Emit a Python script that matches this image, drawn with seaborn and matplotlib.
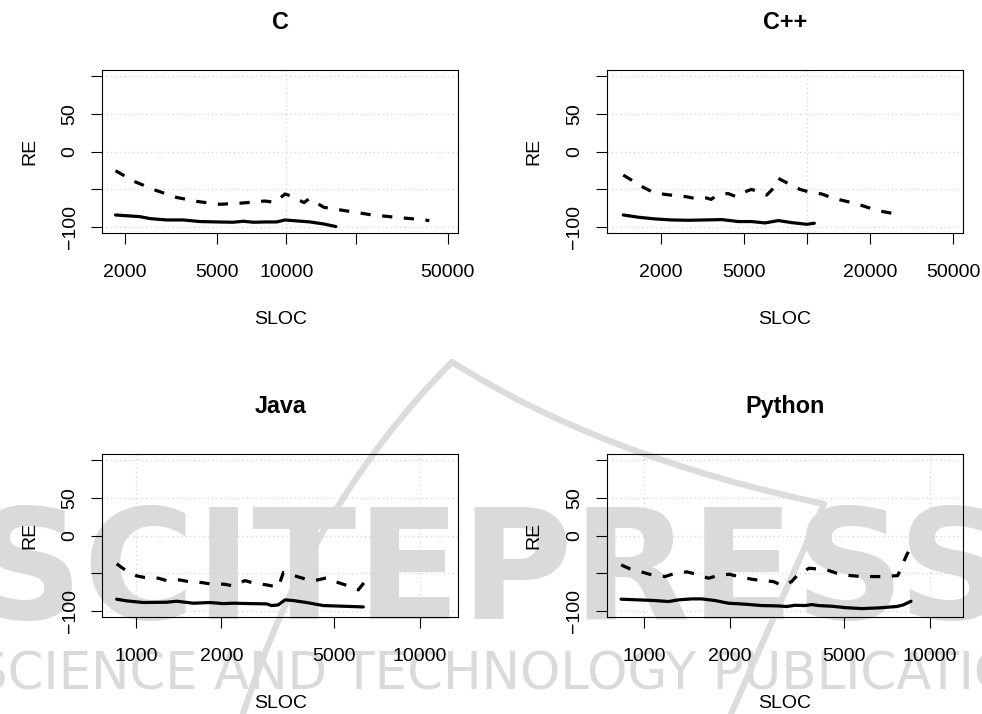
import matplotlib
matplotlib.use("Agg")
import matplotlib.pyplot as plt
import pandas as pd
import seaborn as sns
from matplotlib.path import Path
from matplotlib.patches import PathPatch
from matplotlib.ticker import FixedLocator, FixedFormatter, NullLocator

# ---- data: relative error (RE, %) against project size (SLOC) ----
c_sloc_dash = [1820, 2210, 2700, 3330, 4160, 5160, 6470, 8080, 8930, 9870, 10650,
               11930, 12580, 14560, 18260, 23040, 29570, 37330, 41650]
c_re_dash = [-25.4, -39.9, -50.9, -60.5, -66.2, -69.7, -68.0, -65.4, -67.1, -56.1, -59.6,
             -67.5, -62.3, -73.7, -78.5, -83.3, -86.8, -89.5, -91.2]
c_sloc_solid = [1820, 2320, 2570, 3030, 3580, 4230, 5000, 5890, 6510, 7190, 8220, 9080,
                9870, 10650, 12670, 14470, 16410]
c_re_solid = [-83.8, -86.0, -88.6, -90.4, -90.4, -92.5, -93.0, -93.4, -92.1, -93.4, -93.0,
              -93.0, -90.4, -91.2, -93.0, -95.6, -99.1]

cpp_sloc_dash = [1320, 1650, 1810, 2080, 2290, 2630, 2890, 3310, 3470, 3630, 4170, 4570,
                 5190, 5430, 6400, 6770, 7280, 7980, 9240, 10130, 11730, 13350, 15170,
                 16940, 19610, 21900, 25370, 28110]
cpp_re_dash = [-31.1, -47.4, -53.1, -56.6, -57.9, -59.6, -61.8, -61.4, -63.2, -59.6, -55.3,
               -59.6, -51.8, -50.0, -57.5, -50.9, -35.5, -41.2, -50.0, -53.1, -56.1, -61.8,
               -65.4, -68.4, -74.1, -78.1, -81.6, -78.1]
cpp_sloc_solid = [1320, 1560, 1870, 2250, 2700, 3250, 3900, 4690, 5430, 6290, 7280, 8430,
                  9950, 10820]
cpp_re_solid = [-83.8, -86.8, -89.0, -90.4, -90.8, -90.4, -89.9, -92.5, -92.5, -94.3, -91.2,
                -93.9, -96.1, -94.7]

java_sloc_dash = [855, 915, 1005, 1076, 1198, 1282, 1421, 1529, 1703, 1822, 2041, 2201,
                  2420, 2603, 2885, 3171, 3303, 3533, 3937, 4269, 4692, 5020, 5594, 6066,
                  6402, 6578]
java_re_dash = [-37.4, -45.4, -53.3, -55.5, -56.4, -59.5, -58.6, -60.8, -62.1, -63.9, -64.3,
                -66.5, -59.5, -63.0, -65.2, -68.3, -48.9, -52.0, -57.3, -59.5, -55.9, -60.8,
                -66.5, -71.8, -60.8, -56.4]
java_sloc_solid = [855, 927, 1061, 1282, 1390, 1592, 1822, 2030, 2201, 2519, 2885, 3004,
                   3171, 3347, 3581, 3990, 4566, 5370, 6317]
java_re_solid = [-84.1, -86.3, -88.5, -88.1, -86.8, -89.4, -88.5, -89.9, -89.4, -89.9, -90.3,
                 -92.5, -91.6, -85.0, -85.9, -88.5, -92.5, -93.4, -94.3]

py_sloc_dash = [831, 893, 987, 1064, 1184, 1266, 1410, 1508, 1679, 1795, 1983, 2137, 2379,
                2578, 2833, 3045, 3283, 3419, 3775, 4352, 4717, 5253, 5769, 6422, 6961,
                7709, 7961, 8286, 8581]
py_re_dash = [-38.8, -44.1, -48.5, -52.0, -54.2, -50.7, -48.0, -50.7, -56.4, -53.3, -51.1,
              -54.2, -57.7, -59.5, -60.8, -66.1, -60.8, -53.3, -43.2, -45.4, -49.8, -52.9,
              -54.2, -54.2, -54.2, -52.9, -41.0, -25.6, -15.4]
py_sloc_solid = [831, 955, 1093, 1217, 1318, 1468, 1591, 1772, 1972, 2255, 2578, 2949, 3154,
                 3373, 3656, 3857, 4071, 4532, 5045, 5769, 6598, 7645, 8069, 8581]
py_re_solid = [-84.1, -85.0, -85.9, -87.2, -85.0, -83.7, -83.7, -85.9, -89.4, -90.7, -92.5,
               -93.0, -93.8, -92.1, -92.5, -91.2, -92.5, -93.4, -95.2, -96.5, -95.6, -93.8,
               -91.6, -86.8]

languages = ["C", "C++", "Java", "Python"]
x_ticks = {
    "C": [2000, 5000, 10000, 20000, 50000],
    "C++": [2000, 5000, 10000, 20000, 50000],
    "Java": [1000, 2000, 5000, 10000],
    "Python": [1000, 2000, 5000, 10000],
}
x_tick_labels = {
    "C": ["2000", "5000", "10000", "", "50000"],
    "C++": ["2000", "5000", "", "20000", "50000"],
    "Java": ["1000", "2000", "5000", "10000"],
    "Python": ["1000", "2000", "5000", "10000"],
}
y_ticks = [-100, -50, 0, 50, 100]
y_tick_labels = ["\u2212100", "", "0", "50", ""]

series = {
    "C": (c_sloc_dash, c_re_dash, c_sloc_solid, c_re_solid),
    "C++": (cpp_sloc_dash, cpp_re_dash, cpp_sloc_solid, cpp_re_solid),
    "Java": (java_sloc_dash, java_re_dash, java_sloc_solid, java_re_solid),
    "Python": (py_sloc_dash, py_re_dash, py_sloc_solid, py_re_solid),
}
x_limits = {
    "C": (1595, 55630),
    "C++": (1100, 55420),
    "Java": (761, 13650),
    "Python": (740, 13010),
}

sns.set_theme(style="white")
plt.rcParams["font.family"] = ["Liberation Sans", "DejaVu Sans"]
plt.rcParams["axes.linewidth"] = 0.8
plt.rcParams["text.color"] = "black"
plt.rcParams["axes.labelcolor"] = "black"
plt.rcParams["xtick.color"] = "black"
plt.rcParams["ytick.color"] = "black"

W, H = 982, 714
fig = plt.figure(figsize=(W / 100, H / 100), dpi=100)
fig.patch.set_facecolor("white")


def px(x, y):
    """Figure pixel position (from top-left) to figure fraction."""
    return (x / W, 1 - y / H)


# publisher watermark behind the panels
wm_color = "#dadada"
fig.text(0.5, 0.193, "SCITEPRESS", ha="center", va="center", fontsize=110,
         fontweight="bold", color=wm_color, zorder=-5, family="DejaVu Sans")
fig.text(0.54, 0.054, "SCIENCE AND TECHNOLOGY PUBLICATIONS", ha="center", va="center",
         fontsize=37, color=wm_color, zorder=-5, family="DejaVu Sans")

# swoosh of the publisher logo
logo_path = Path(
    [px(243, 714), px(312, 502), px(452, 362), px(602, 457), px(824, 504), px(731, 714)],
    [Path.MOVETO, Path.CURVE3, Path.CURVE3, Path.CURVE3, Path.CURVE3, Path.LINETO],
)
fig.add_artist(PathPatch(logo_path, transform=fig.transFigure, facecolor="none",
                         edgecolor="#dcdcdc", lw=4.5, zorder=-6, capstyle="round",
                         joinstyle="round"))

# panel boxes in pixels: (left, top, right, bottom)
boxes = {
    "C": (102.3, 69.7, 458.3, 233.3),
    "C++": (606.7, 69.7, 962.7, 233.3),
    "Java": (102.3, 453.7, 458.3, 617.3),
    "Python": (606.7, 453.7, 962.7, 617.3),
}

tick_len = 8.0
for lang in languages:
    l, t, r, b = boxes[lang]
    ax = fig.add_axes([l / W, 1 - b / H, (r - l) / W, (b - t) / H])
    ax.set_facecolor("none")
    xd, yd, xs, ys = series[lang]
    dash_df = pd.DataFrame({"SLOC": xd, "RE": yd})
    solid_df = pd.DataFrame({"SLOC": xs, "RE": ys})

    ax.set_xscale("log")
    # dotted reference grid
    for yv in y_ticks:
        ax.axhline(yv, color="#d3d3d3", lw=0.9, ls=(0, (1, 2.5)), zorder=1)
    for xv in (1000, 10000):
        if x_limits[lang][0] < xv < x_limits[lang][1]:
            ax.axvline(xv, color="#d3d3d3", lw=0.9, ls=(0, (1, 2.5)), zorder=1)

    sns.lineplot(data=dash_df, x="SLOC", y="RE", ax=ax, color="black", lw=2.3,
                 linestyle=(0, (3.2, 3.6)), sort=False, estimator=None, zorder=3)
    sns.lineplot(data=solid_df, x="SLOC", y="RE", ax=ax, color="black", lw=2.3,
                 sort=False, estimator=None, zorder=3)

    ax.set_xlim(*x_limits[lang])
    ax.set_ylim(-108, 108)
    ax.xaxis.set_major_locator(FixedLocator(x_ticks[lang]))
    ax.xaxis.set_major_formatter(FixedFormatter(x_tick_labels[lang]))
    ax.xaxis.set_minor_locator(NullLocator())
    ax.yaxis.set_major_locator(FixedLocator(y_ticks))
    ax.yaxis.set_major_formatter(FixedFormatter(y_tick_labels))

    ax.tick_params(axis="both", which="major", direction="out", length=tick_len,
                   width=0.8, color="black", labelsize=14, labelcolor="black",
                   bottom=True, left=True)
    ax.tick_params(axis="x", pad=14)
    ax.tick_params(axis="y", pad=9, labelrotation=90)
    for lab in ax.get_yticklabels():
        lab.set_verticalalignment("center")

    for sp in ax.spines.values():
        sp.set_visible(True)
        sp.set_color("black")
        sp.set_linewidth(0.8)

    ax.set_title(lang, fontsize=16.8, fontweight="bold", pad=29, color="black")
    ax.set_xlabel("SLOC", fontsize=14, labelpad=22, color="black")
    ax.set_ylabel("RE", fontsize=14, labelpad=17, color="black")

fig.savefig("out.png", dpi=100, facecolor="white")
